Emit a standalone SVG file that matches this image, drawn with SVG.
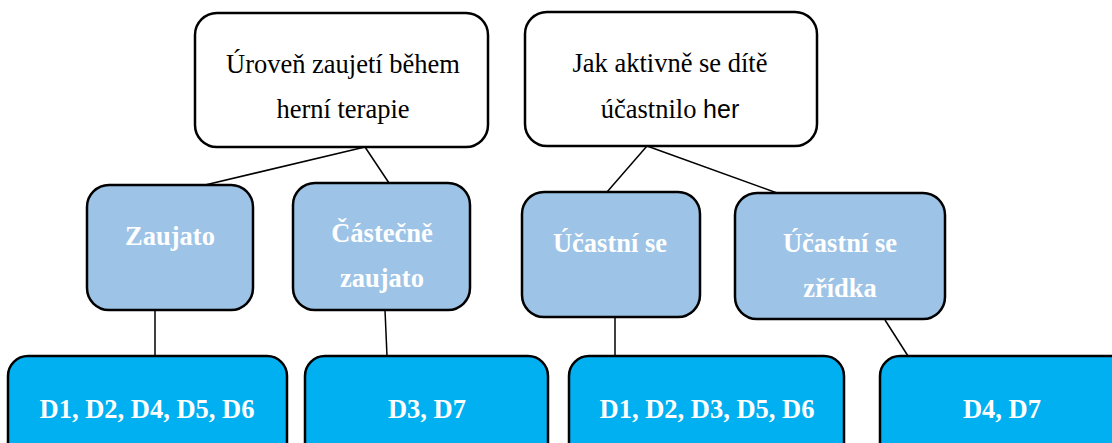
<svg xmlns="http://www.w3.org/2000/svg" width="1112" height="443" viewBox="0 0 1112 443">
<style>
.box{stroke:#000;stroke-width:2.5}
.top{fill:#fff}
.mid{fill:#9DC3E6}
.bot{fill:#00B0F0}
.tt{font-family:"Liberation Serif","Times New Roman",serif;font-size:26.5px;fill:#000;text-anchor:middle}
.wt{font-family:"Liberation Serif","Times New Roman",serif;font-size:26.5px;font-weight:bold;fill:#fff;text-anchor:middle}
.conn line{stroke:#000;stroke-width:1.5}
</style>
<rect width="1112" height="443" fill="#fff"/>
<g class="conn">
<line x1="365" y1="147" x2="205" y2="185"/>
<line x1="365" y1="147" x2="389" y2="183"/>
<line x1="647" y1="146" x2="607" y2="192"/>
<line x1="647" y1="146" x2="777" y2="193"/>
<line x1="155" y1="310" x2="155" y2="356"/>
<line x1="385" y1="310" x2="387" y2="356"/>
<line x1="615" y1="317" x2="615" y2="356"/>
<line x1="885" y1="320" x2="908" y2="356"/>
</g>
<g id="n1">
<rect class="box top" x="195" y="13" width="293" height="134" rx="22"/>
<text class="tt" x="343" y="73">Úroveň zaujetí během</text>
<text class="tt" x="343" y="118">herní terapie</text>
</g>
<g id="n2">
<rect class="box top" x="525" y="12" width="292" height="134" rx="22"/>
<text class="tt" x="670" y="72">Jak aktivně se dítě</text>
<text class="tt" x="670" y="118">účastnilo <tspan font-family="'Liberation Sans',Arial,sans-serif" font-size="25">her</tspan></text>
</g>
<g id="n3">
<rect class="box mid" x="87" y="185" width="166" height="125" rx="22"/>
<text class="wt" x="170" y="245">Zaujato</text>
</g>
<g id="n4">
<rect class="box mid" x="293" y="183" width="177" height="127" rx="22"/>
<text class="wt" x="382" y="242">Částečně</text>
<text class="wt" x="382" y="287">zaujato</text>
</g>
<g id="n5">
<rect class="box mid" x="522" y="192" width="178" height="125" rx="22"/>
<text class="wt" x="610" y="252">Účastní se</text>
</g>
<g id="n6">
<rect class="box mid" x="735" y="193" width="210" height="126" rx="22"/>
<text class="wt" x="840" y="252">Účastní se</text>
<text class="wt" x="840" y="297">zřídka</text>
</g>
<g id="n7">
<rect class="box bot" x="8" y="356" width="279" height="110" rx="20"/>
<text class="wt" x="147" y="418">D1, D2, D4, D5, D6</text>
</g>
<g id="n8">
<rect class="box bot" x="305" y="356" width="243" height="110" rx="20"/>
<text class="wt" x="427" y="418">D3, D7</text>
</g>
<g id="n9">
<rect class="box bot" x="569" y="356" width="275" height="110" rx="20"/>
<text class="wt" x="707" y="418">D1, D2, D3, D5, D6</text>
</g>
<g id="n10">
<rect class="box bot" x="880" y="356" width="260" height="110" rx="20"/>
<text class="wt" x="1002" y="418">D4, D7</text>
</g>
</svg>
